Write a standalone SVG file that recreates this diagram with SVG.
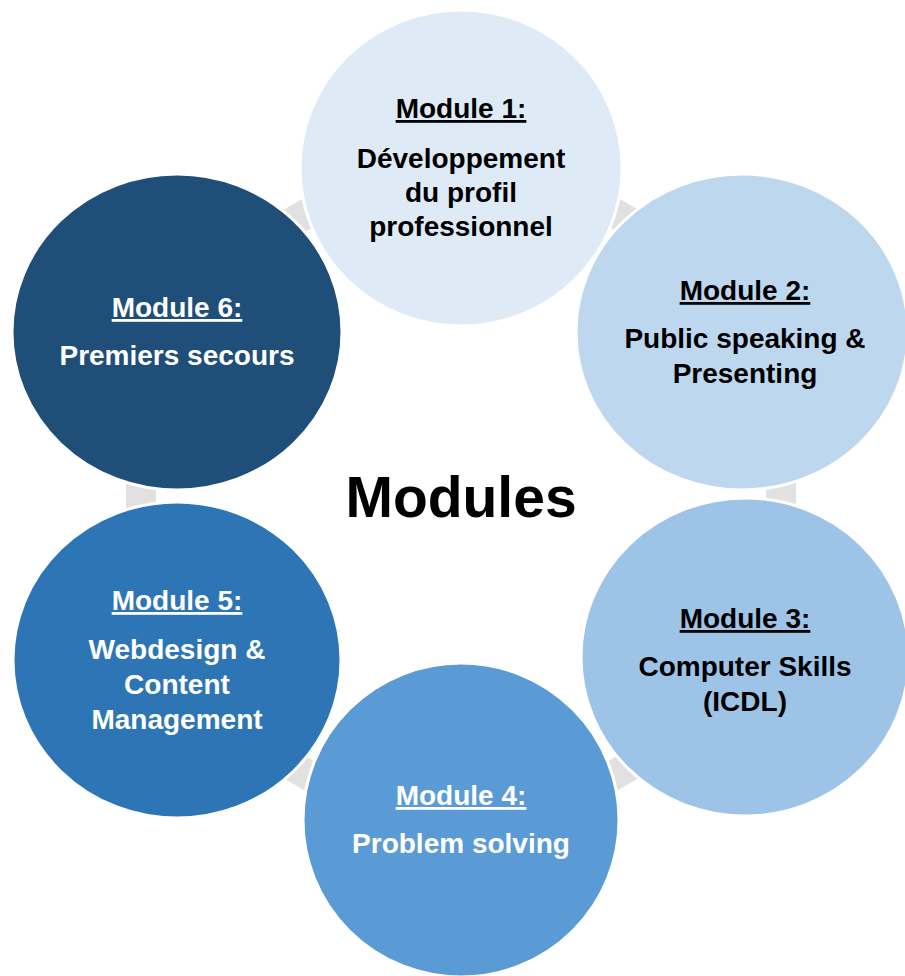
<svg xmlns="http://www.w3.org/2000/svg" width="905" height="976" viewBox="0 0 905 976">
  <style>
    .node { stroke: #ffffff; stroke-width: 3; }
    .arrow { fill: #e1e1e1; }
    text { font-family: "Liberation Sans", Arial, sans-serif; font-weight: bold; text-anchor: middle; }
    .lbl { font-size: 28px; }
    .hd { font-size: 28px; text-decoration: underline; }
    .dark { fill: #000000; }
    .light { fill: #ffffff; }
    .title { font-size: 57px; fill: #000000; }
  </style>
  <rect x="0" y="0" width="905" height="976" fill="#ffffff"/>
  <g id="connectors">
    <rect class="arrow" x="-15" y="-35" width="30" height="70" transform="translate(781,494) rotate(0)"/>
    <rect class="arrow" x="-15" y="-35" width="30" height="70" transform="translate(621,771) rotate(60)"/>
    <rect class="arrow" x="-15" y="-35" width="30" height="70" transform="translate(301,771) rotate(120)"/>
    <rect class="arrow" x="-15" y="-35" width="30" height="70" transform="translate(141,494) rotate(180)"/>
    <rect class="arrow" x="-15" y="-35" width="30" height="70" transform="translate(301,217) rotate(240)"/>
    <rect class="arrow" x="-15" y="-35" width="30" height="70" transform="translate(621,217) rotate(300)"/>
  </g>
  <g id="module1">
    <ellipse class="node" cx="461" cy="168" rx="161" ry="158" fill="#deeaf6"/>
    <text class="hd dark" x="461" y="118">Module 1:</text>
    <text class="lbl dark" x="461" y="168">Développement</text>
    <text class="lbl dark" x="461" y="202">du profil</text>
    <text class="lbl dark" x="461" y="236">professionnel</text>
  </g>
  <g id="module2">
    <ellipse class="node" cx="742" cy="332" rx="166" ry="158" fill="#bdd7ee"/>
    <text class="hd dark" x="745" y="300">Module 2:</text>
    <text class="lbl dark" x="745" y="348">Public speaking &amp;</text>
    <text class="lbl dark" x="745" y="383">Presenting</text>
  </g>
  <g id="module3">
    <ellipse class="node" cx="745" cy="657" rx="164" ry="159" fill="#9dc3e6"/>
    <text class="hd dark" x="745" y="628">Module 3:</text>
    <text class="lbl dark" x="745" y="676">Computer Skills</text>
    <text class="lbl dark" x="745" y="711">(ICDL)</text>
  </g>
  <g id="module4">
    <ellipse class="node" cx="461" cy="820" rx="158" ry="157" fill="#5b9bd5"/>
    <text class="hd light" x="461" y="805">Module 4:</text>
    <text class="lbl light" x="461" y="853">Problem solving</text>
  </g>
  <g id="module5">
    <ellipse class="node" cx="177" cy="660" rx="164" ry="158" fill="#2e75b6"/>
    <text class="hd light" x="177" y="610">Module 5:</text>
    <text class="lbl light" x="177" y="659">Webdesign &amp;</text>
    <text class="lbl light" x="177" y="694">Content</text>
    <text class="lbl light" x="177" y="729">Management</text>
  </g>
  <g id="module6">
    <ellipse class="node" cx="177" cy="332" rx="165" ry="158" fill="#1f4e79"/>
    <text class="hd light" x="177" y="317">Module 6:</text>
    <text class="lbl light" x="177" y="365">Premiers secours</text>
  </g>
  <g id="center">
    <text class="title" x="461" y="517">Modules</text>
  </g>
</svg>
